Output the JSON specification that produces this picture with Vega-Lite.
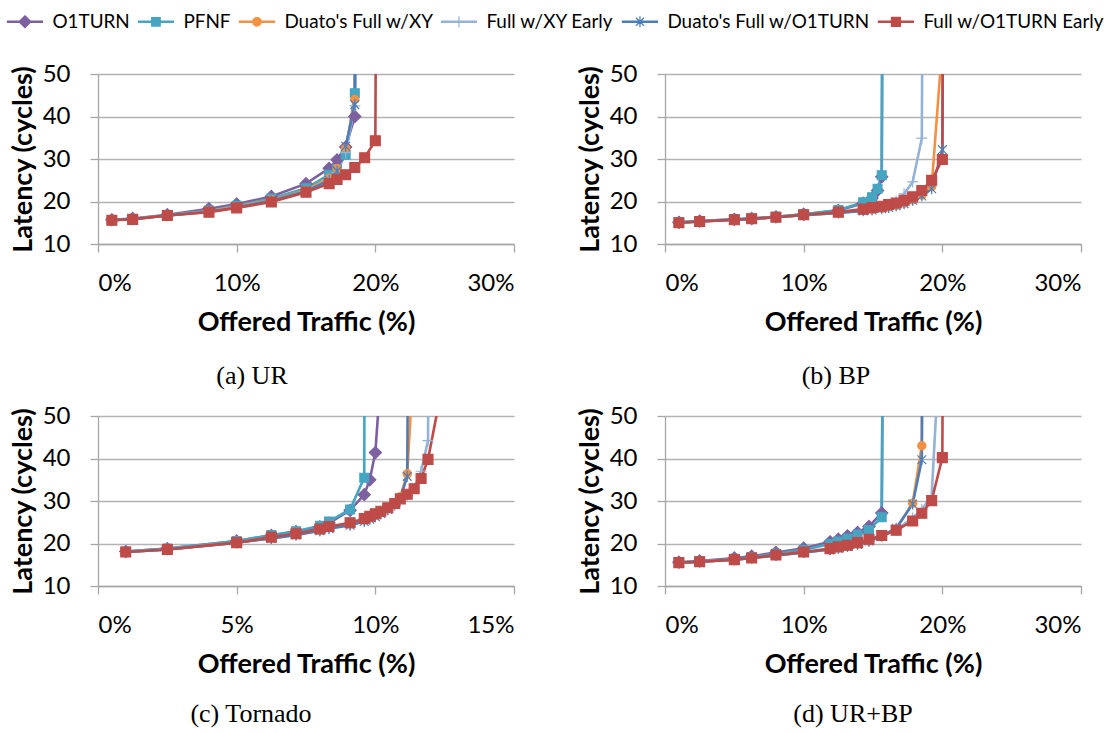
{
  "$schema": "https://vega.github.io/schema/vega-lite/v6.json",
  "background": "white",
  "padding": {"left": 9, "top": 12, "right": 4, "bottom": 4},
  "config": {
    "view": {"stroke": null},
    "font": "Lato",
    "axis": {
      "domainColor": "#a6a6a6", "domainWidth": 1.3,
      "tickColor": "#a6a6a6", "tickWidth": 1.3, "tickSize": 8,
      "gridColor": "#b3b3b3", "gridWidth": 1.3,
      "labelFont": "Lato", "labelFontSize": 24, "labelColor": "black",
      "titleFont": "Lato", "titleFontSize": 27, "titleFontWeight": "bold", "titleColor": "black"
    },
    "axisX": {"grid": false, "labelPadding": 19, "titlePadding": 14},
    "axisY": {"grid": true, "labelPadding": 20, "titlePadding": 5},
    "title": {"font": "Liberation Serif", "fontSize": 26, "fontWeight": "normal", "color": "black", "orient": "bottom", "anchor": "middle", "frame": "group"}
  },
  "datasets": {
    "latency": [
      {"panel": "a", "series": "O1TURN", "load": 1, "latency": 15.7},
      {"panel": "a", "series": "O1TURN", "load": 2.5, "latency": 16.0},
      {"panel": "a", "series": "O1TURN", "load": 5, "latency": 16.9},
      {"panel": "a", "series": "O1TURN", "load": 8, "latency": 18.3},
      {"panel": "a", "series": "O1TURN", "load": 10, "latency": 19.4},
      {"panel": "a", "series": "O1TURN", "load": 12.5, "latency": 21.2},
      {"panel": "a", "series": "O1TURN", "load": 15, "latency": 24.2},
      {"panel": "a", "series": "O1TURN", "load": 16.67, "latency": 27.8},
      {"panel": "a", "series": "O1TURN", "load": 17.24, "latency": 29.8},
      {"panel": "a", "series": "O1TURN", "load": 17.86, "latency": 32.8},
      {"panel": "a", "series": "O1TURN", "load": 18.52, "latency": 40.0},
      {"panel": "a", "series": "O1TURN", "load": 19.23, "latency": 400},
      {"panel": "a", "series": "PFNF", "load": 1, "latency": 15.6},
      {"panel": "a", "series": "PFNF", "load": 2.5, "latency": 15.9},
      {"panel": "a", "series": "PFNF", "load": 5, "latency": 16.8},
      {"panel": "a", "series": "PFNF", "load": 8, "latency": 17.9},
      {"panel": "a", "series": "PFNF", "load": 10, "latency": 19.0},
      {"panel": "a", "series": "PFNF", "load": 12.5, "latency": 20.7},
      {"panel": "a", "series": "PFNF", "load": 15, "latency": 23.1},
      {"panel": "a", "series": "PFNF", "load": 16.67, "latency": 26.3},
      {"panel": "a", "series": "PFNF", "load": 17.24, "latency": 27.6},
      {"panel": "a", "series": "PFNF", "load": 17.86, "latency": 31.0},
      {"panel": "a", "series": "PFNF", "load": 18.52, "latency": 45.5},
      {"panel": "a", "series": "PFNF", "load": 19.23, "latency": 500},
      {"panel": "a", "series": "Duato's Full w/XY", "load": 1, "latency": 15.6},
      {"panel": "a", "series": "Duato's Full w/XY", "load": 2.5, "latency": 15.9},
      {"panel": "a", "series": "Duato's Full w/XY", "load": 5, "latency": 16.7},
      {"panel": "a", "series": "Duato's Full w/XY", "load": 8, "latency": 17.7},
      {"panel": "a", "series": "Duato's Full w/XY", "load": 10, "latency": 18.8},
      {"panel": "a", "series": "Duato's Full w/XY", "load": 12.5, "latency": 20.4},
      {"panel": "a", "series": "Duato's Full w/XY", "load": 15, "latency": 22.6},
      {"panel": "a", "series": "Duato's Full w/XY", "load": 16.67, "latency": 25.5},
      {"panel": "a", "series": "Duato's Full w/XY", "load": 17.24, "latency": 27.8},
      {"panel": "a", "series": "Duato's Full w/XY", "load": 17.86, "latency": 32.5},
      {"panel": "a", "series": "Duato's Full w/XY", "load": 18.52, "latency": 44.0},
      {"panel": "a", "series": "Duato's Full w/XY", "load": 19.23, "latency": 500},
      {"panel": "a", "series": "Full w/XY Early", "load": 1, "latency": 15.6},
      {"panel": "a", "series": "Full w/XY Early", "load": 2.5, "latency": 15.9},
      {"panel": "a", "series": "Full w/XY Early", "load": 5, "latency": 16.7},
      {"panel": "a", "series": "Full w/XY Early", "load": 8, "latency": 17.6},
      {"panel": "a", "series": "Full w/XY Early", "load": 10, "latency": 18.6},
      {"panel": "a", "series": "Full w/XY Early", "load": 12.5, "latency": 20.1},
      {"panel": "a", "series": "Full w/XY Early", "load": 15, "latency": 22.3},
      {"panel": "a", "series": "Full w/XY Early", "load": 16.67, "latency": 24.8},
      {"panel": "a", "series": "Full w/XY Early", "load": 17.24, "latency": 26.8},
      {"panel": "a", "series": "Full w/XY Early", "load": 17.86, "latency": 31.5},
      {"panel": "a", "series": "Full w/XY Early", "load": 18.52, "latency": 42.5},
      {"panel": "a", "series": "Full w/XY Early", "load": 19.23, "latency": 500},
      {"panel": "a", "series": "Duato's Full w/O1TURN", "load": 1, "latency": 15.6},
      {"panel": "a", "series": "Duato's Full w/O1TURN", "load": 2.5, "latency": 15.9},
      {"panel": "a", "series": "Duato's Full w/O1TURN", "load": 5, "latency": 16.7},
      {"panel": "a", "series": "Duato's Full w/O1TURN", "load": 8, "latency": 17.6},
      {"panel": "a", "series": "Duato's Full w/O1TURN", "load": 10, "latency": 18.6},
      {"panel": "a", "series": "Duato's Full w/O1TURN", "load": 12.5, "latency": 20.2},
      {"panel": "a", "series": "Duato's Full w/O1TURN", "load": 15, "latency": 22.4},
      {"panel": "a", "series": "Duato's Full w/O1TURN", "load": 16.67, "latency": 25.0},
      {"panel": "a", "series": "Duato's Full w/O1TURN", "load": 17.24, "latency": 27.2},
      {"panel": "a", "series": "Duato's Full w/O1TURN", "load": 17.86, "latency": 33.0},
      {"panel": "a", "series": "Duato's Full w/O1TURN", "load": 18.52, "latency": 42.8},
      {"panel": "a", "series": "Duato's Full w/O1TURN", "load": 19.23, "latency": 500},
      {"panel": "a", "series": "Full w/O1TURN Early", "load": 1, "latency": 15.6},
      {"panel": "a", "series": "Full w/O1TURN Early", "load": 2.5, "latency": 15.8},
      {"panel": "a", "series": "Full w/O1TURN Early", "load": 5, "latency": 16.7},
      {"panel": "a", "series": "Full w/O1TURN Early", "load": 8, "latency": 17.5},
      {"panel": "a", "series": "Full w/O1TURN Early", "load": 10, "latency": 18.5},
      {"panel": "a", "series": "Full w/O1TURN Early", "load": 12.5, "latency": 19.9},
      {"panel": "a", "series": "Full w/O1TURN Early", "load": 15, "latency": 22.2},
      {"panel": "a", "series": "Full w/O1TURN Early", "load": 16.67, "latency": 24.2},
      {"panel": "a", "series": "Full w/O1TURN Early", "load": 17.24, "latency": 25.2},
      {"panel": "a", "series": "Full w/O1TURN Early", "load": 17.86, "latency": 26.3},
      {"panel": "a", "series": "Full w/O1TURN Early", "load": 18.52, "latency": 28.0},
      {"panel": "a", "series": "Full w/O1TURN Early", "load": 19.23, "latency": 30.3},
      {"panel": "a", "series": "Full w/O1TURN Early", "load": 20, "latency": 34.3},
      {"panel": "a", "series": "Full w/O1TURN Early", "load": 20.83, "latency": 600},

      {"panel": "b", "series": "O1TURN", "load": 1, "latency": 15.1},
      {"panel": "b", "series": "O1TURN", "load": 2.5, "latency": 15.4},
      {"panel": "b", "series": "O1TURN", "load": 5, "latency": 15.8},
      {"panel": "b", "series": "O1TURN", "load": 6.25, "latency": 16.0},
      {"panel": "b", "series": "O1TURN", "load": 8, "latency": 16.4},
      {"panel": "b", "series": "O1TURN", "load": 10, "latency": 17.0},
      {"panel": "b", "series": "O1TURN", "load": 12.5, "latency": 17.9},
      {"panel": "b", "series": "O1TURN", "load": 14.29, "latency": 19.6},
      {"panel": "b", "series": "O1TURN", "load": 14.93, "latency": 20.8},
      {"panel": "b", "series": "O1TURN", "load": 15.33, "latency": 22.6},
      {"panel": "b", "series": "O1TURN", "load": 15.63, "latency": 25.8},
      {"panel": "b", "series": "O1TURN", "load": 16.13, "latency": 500},
      {"panel": "b", "series": "PFNF", "load": 1, "latency": 15.1},
      {"panel": "b", "series": "PFNF", "load": 2.5, "latency": 15.4},
      {"panel": "b", "series": "PFNF", "load": 5, "latency": 15.8},
      {"panel": "b", "series": "PFNF", "load": 6.25, "latency": 16.0},
      {"panel": "b", "series": "PFNF", "load": 8, "latency": 16.4},
      {"panel": "b", "series": "PFNF", "load": 10, "latency": 17.0},
      {"panel": "b", "series": "PFNF", "load": 12.5, "latency": 18.0},
      {"panel": "b", "series": "PFNF", "load": 14.29, "latency": 19.8},
      {"panel": "b", "series": "PFNF", "load": 14.93, "latency": 21.0},
      {"panel": "b", "series": "PFNF", "load": 15.33, "latency": 23.0},
      {"panel": "b", "series": "PFNF", "load": 15.63, "latency": 26.2},
      {"panel": "b", "series": "PFNF", "load": 16.13, "latency": 500},
      {"panel": "b", "series": "Duato's Full w/XY", "load": 1, "latency": 15.0},
      {"panel": "b", "series": "Duato's Full w/XY", "load": 2.5, "latency": 15.3},
      {"panel": "b", "series": "Duato's Full w/XY", "load": 5, "latency": 15.7},
      {"panel": "b", "series": "Duato's Full w/XY", "load": 6.25, "latency": 15.9},
      {"panel": "b", "series": "Duato's Full w/XY", "load": 8, "latency": 16.3},
      {"panel": "b", "series": "Duato's Full w/XY", "load": 10, "latency": 16.8},
      {"panel": "b", "series": "Duato's Full w/XY", "load": 12.5, "latency": 17.3},
      {"panel": "b", "series": "Duato's Full w/XY", "load": 14.29, "latency": 17.9},
      {"panel": "b", "series": "Duato's Full w/XY", "load": 14.93, "latency": 18.1},
      {"panel": "b", "series": "Duato's Full w/XY", "load": 15.63, "latency": 18.4},
      {"panel": "b", "series": "Duato's Full w/XY", "load": 16.13, "latency": 18.7},
      {"panel": "b", "series": "Duato's Full w/XY", "load": 16.67, "latency": 19.1},
      {"panel": "b", "series": "Duato's Full w/XY", "load": 17.24, "latency": 19.6},
      {"panel": "b", "series": "Duato's Full w/XY", "load": 17.86, "latency": 20.4},
      {"panel": "b", "series": "Duato's Full w/XY", "load": 18.52, "latency": 21.5},
      {"panel": "b", "series": "Duato's Full w/XY", "load": 19.23, "latency": 23.5},
      {"panel": "b", "series": "Duato's Full w/XY", "load": 20, "latency": 57},
      {"panel": "b", "series": "Full w/XY Early", "load": 1, "latency": 15.0},
      {"panel": "b", "series": "Full w/XY Early", "load": 2.5, "latency": 15.3},
      {"panel": "b", "series": "Full w/XY Early", "load": 5, "latency": 15.7},
      {"panel": "b", "series": "Full w/XY Early", "load": 6.25, "latency": 15.9},
      {"panel": "b", "series": "Full w/XY Early", "load": 8, "latency": 16.3},
      {"panel": "b", "series": "Full w/XY Early", "load": 10, "latency": 16.8},
      {"panel": "b", "series": "Full w/XY Early", "load": 12.5, "latency": 17.4},
      {"panel": "b", "series": "Full w/XY Early", "load": 14.29, "latency": 18.0},
      {"panel": "b", "series": "Full w/XY Early", "load": 14.93, "latency": 18.3},
      {"panel": "b", "series": "Full w/XY Early", "load": 15.63, "latency": 18.7},
      {"panel": "b", "series": "Full w/XY Early", "load": 16.13, "latency": 19.3},
      {"panel": "b", "series": "Full w/XY Early", "load": 16.67, "latency": 20.1},
      {"panel": "b", "series": "Full w/XY Early", "load": 17.24, "latency": 21.8},
      {"panel": "b", "series": "Full w/XY Early", "load": 17.86, "latency": 24.6},
      {"panel": "b", "series": "Full w/XY Early", "load": 18.52, "latency": 34.9},
      {"panel": "b", "series": "Full w/XY Early", "load": 19.23, "latency": 500},
      {"panel": "b", "series": "Duato's Full w/O1TURN", "load": 1, "latency": 15.0},
      {"panel": "b", "series": "Duato's Full w/O1TURN", "load": 2.5, "latency": 15.3},
      {"panel": "b", "series": "Duato's Full w/O1TURN", "load": 5, "latency": 15.7},
      {"panel": "b", "series": "Duato's Full w/O1TURN", "load": 6.25, "latency": 15.9},
      {"panel": "b", "series": "Duato's Full w/O1TURN", "load": 8, "latency": 16.3},
      {"panel": "b", "series": "Duato's Full w/O1TURN", "load": 10, "latency": 16.8},
      {"panel": "b", "series": "Duato's Full w/O1TURN", "load": 12.5, "latency": 17.3},
      {"panel": "b", "series": "Duato's Full w/O1TURN", "load": 14.29, "latency": 17.8},
      {"panel": "b", "series": "Duato's Full w/O1TURN", "load": 14.93, "latency": 18.0},
      {"panel": "b", "series": "Duato's Full w/O1TURN", "load": 15.63, "latency": 18.3},
      {"panel": "b", "series": "Duato's Full w/O1TURN", "load": 16.13, "latency": 18.6},
      {"panel": "b", "series": "Duato's Full w/O1TURN", "load": 16.67, "latency": 19.0},
      {"panel": "b", "series": "Duato's Full w/O1TURN", "load": 17.24, "latency": 19.5},
      {"panel": "b", "series": "Duato's Full w/O1TURN", "load": 17.86, "latency": 20.3},
      {"panel": "b", "series": "Duato's Full w/O1TURN", "load": 18.52, "latency": 21.3},
      {"panel": "b", "series": "Duato's Full w/O1TURN", "load": 19.23, "latency": 23.0},
      {"panel": "b", "series": "Duato's Full w/O1TURN", "load": 20, "latency": 32.2},
      {"panel": "b", "series": "Duato's Full w/O1TURN", "load": 20.83, "latency": 600},
      {"panel": "b", "series": "Full w/O1TURN Early", "load": 1, "latency": 15.0},
      {"panel": "b", "series": "Full w/O1TURN Early", "load": 2.5, "latency": 15.3},
      {"panel": "b", "series": "Full w/O1TURN Early", "load": 5, "latency": 15.7},
      {"panel": "b", "series": "Full w/O1TURN Early", "load": 6.25, "latency": 15.95},
      {"panel": "b", "series": "Full w/O1TURN Early", "load": 8, "latency": 16.3},
      {"panel": "b", "series": "Full w/O1TURN Early", "load": 10, "latency": 16.9},
      {"panel": "b", "series": "Full w/O1TURN Early", "load": 12.5, "latency": 17.5},
      {"panel": "b", "series": "Full w/O1TURN Early", "load": 14.29, "latency": 18.2},
      {"panel": "b", "series": "Full w/O1TURN Early", "load": 14.93, "latency": 18.6},
      {"panel": "b", "series": "Full w/O1TURN Early", "load": 15.63, "latency": 18.9},
      {"panel": "b", "series": "Full w/O1TURN Early", "load": 16.13, "latency": 19.3},
      {"panel": "b", "series": "Full w/O1TURN Early", "load": 16.67, "latency": 19.65},
      {"panel": "b", "series": "Full w/O1TURN Early", "load": 17.24, "latency": 20.3},
      {"panel": "b", "series": "Full w/O1TURN Early", "load": 17.86, "latency": 21.1},
      {"panel": "b", "series": "Full w/O1TURN Early", "load": 18.52, "latency": 22.6},
      {"panel": "b", "series": "Full w/O1TURN Early", "load": 19.23, "latency": 25.0},
      {"panel": "b", "series": "Full w/O1TURN Early", "load": 20, "latency": 29.9},
      {"panel": "b", "series": "Full w/O1TURN Early", "load": 20.83, "latency": 600},

      {"panel": "c", "series": "O1TURN", "load": 1, "latency": 18.1},
      {"panel": "c", "series": "O1TURN", "load": 2.5, "latency": 18.8},
      {"panel": "c", "series": "O1TURN", "load": 5, "latency": 20.6},
      {"panel": "c", "series": "O1TURN", "load": 6.25, "latency": 21.9},
      {"panel": "c", "series": "O1TURN", "load": 7.14, "latency": 22.8},
      {"panel": "c", "series": "O1TURN", "load": 8.0, "latency": 23.9},
      {"panel": "c", "series": "O1TURN", "load": 8.33, "latency": 24.8},
      {"panel": "c", "series": "O1TURN", "load": 9.09, "latency": 27.8},
      {"panel": "c", "series": "O1TURN", "load": 9.6, "latency": 31.5},
      {"panel": "c", "series": "O1TURN", "load": 9.8, "latency": 35.0},
      {"panel": "c", "series": "O1TURN", "load": 10.0, "latency": 41.4},
      {"panel": "c", "series": "O1TURN", "load": 10.2, "latency": 60},
      {"panel": "c", "series": "PFNF", "load": 1, "latency": 18.1},
      {"panel": "c", "series": "PFNF", "load": 2.5, "latency": 18.8},
      {"panel": "c", "series": "PFNF", "load": 5, "latency": 20.6},
      {"panel": "c", "series": "PFNF", "load": 6.25, "latency": 22.0},
      {"panel": "c", "series": "PFNF", "load": 7.14, "latency": 22.9},
      {"panel": "c", "series": "PFNF", "load": 8.0, "latency": 24.2},
      {"panel": "c", "series": "PFNF", "load": 8.33, "latency": 25.2},
      {"panel": "c", "series": "PFNF", "load": 9.09, "latency": 28.0},
      {"panel": "c", "series": "PFNF", "load": 9.6, "latency": 35.5},
      {"panel": "c", "series": "PFNF", "load": 9.8, "latency": 500},
      {"panel": "c", "series": "Duato's Full w/XY", "load": 1, "latency": 18.0},
      {"panel": "c", "series": "Duato's Full w/XY", "load": 2.5, "latency": 18.6},
      {"panel": "c", "series": "Duato's Full w/XY", "load": 5, "latency": 20.3},
      {"panel": "c", "series": "Duato's Full w/XY", "load": 6.25, "latency": 21.3},
      {"panel": "c", "series": "Duato's Full w/XY", "load": 7.14, "latency": 22.1},
      {"panel": "c", "series": "Duato's Full w/XY", "load": 8.0, "latency": 23.2},
      {"panel": "c", "series": "Duato's Full w/XY", "load": 8.33, "latency": 23.8},
      {"panel": "c", "series": "Duato's Full w/XY", "load": 9.09, "latency": 24.6},
      {"panel": "c", "series": "Duato's Full w/XY", "load": 9.6, "latency": 25.5},
      {"panel": "c", "series": "Duato's Full w/XY", "load": 9.8, "latency": 26.0},
      {"panel": "c", "series": "Duato's Full w/XY", "load": 10.0, "latency": 26.6},
      {"panel": "c", "series": "Duato's Full w/XY", "load": 10.2, "latency": 27.3},
      {"panel": "c", "series": "Duato's Full w/XY", "load": 10.45, "latency": 28.3},
      {"panel": "c", "series": "Duato's Full w/XY", "load": 10.7, "latency": 29.5},
      {"panel": "c", "series": "Duato's Full w/XY", "load": 10.9, "latency": 31.0},
      {"panel": "c", "series": "Duato's Full w/XY", "load": 11.15, "latency": 36.4},
      {"panel": "c", "series": "Duato's Full w/XY", "load": 11.4, "latency": 65},
      {"panel": "c", "series": "Full w/XY Early", "load": 1, "latency": 18.0},
      {"panel": "c", "series": "Full w/XY Early", "load": 2.5, "latency": 18.6},
      {"panel": "c", "series": "Full w/XY Early", "load": 5, "latency": 20.2},
      {"panel": "c", "series": "Full w/XY Early", "load": 6.25, "latency": 21.2},
      {"panel": "c", "series": "Full w/XY Early", "load": 7.14, "latency": 22.0},
      {"panel": "c", "series": "Full w/XY Early", "load": 8.0, "latency": 23.0},
      {"panel": "c", "series": "Full w/XY Early", "load": 8.33, "latency": 23.6},
      {"panel": "c", "series": "Full w/XY Early", "load": 9.09, "latency": 24.4},
      {"panel": "c", "series": "Full w/XY Early", "load": 9.6, "latency": 25.3},
      {"panel": "c", "series": "Full w/XY Early", "load": 9.8, "latency": 25.8},
      {"panel": "c", "series": "Full w/XY Early", "load": 10.0, "latency": 26.4},
      {"panel": "c", "series": "Full w/XY Early", "load": 10.2, "latency": 27.0},
      {"panel": "c", "series": "Full w/XY Early", "load": 10.45, "latency": 27.9},
      {"panel": "c", "series": "Full w/XY Early", "load": 10.7, "latency": 28.9},
      {"panel": "c", "series": "Full w/XY Early", "load": 10.9, "latency": 30.0},
      {"panel": "c", "series": "Full w/XY Early", "load": 11.15, "latency": 31.2},
      {"panel": "c", "series": "Full w/XY Early", "load": 11.4, "latency": 33.0},
      {"panel": "c", "series": "Full w/XY Early", "load": 11.65, "latency": 37.0},
      {"panel": "c", "series": "Full w/XY Early", "load": 11.9, "latency": 44.2},
      {"panel": "c", "series": "Full w/XY Early", "load": 12.2, "latency": 500},
      {"panel": "c", "series": "Duato's Full w/O1TURN", "load": 1, "latency": 18.0},
      {"panel": "c", "series": "Duato's Full w/O1TURN", "load": 2.5, "latency": 18.6},
      {"panel": "c", "series": "Duato's Full w/O1TURN", "load": 5, "latency": 20.2},
      {"panel": "c", "series": "Duato's Full w/O1TURN", "load": 6.25, "latency": 21.2},
      {"panel": "c", "series": "Duato's Full w/O1TURN", "load": 7.14, "latency": 22.0},
      {"panel": "c", "series": "Duato's Full w/O1TURN", "load": 8.0, "latency": 23.0},
      {"panel": "c", "series": "Duato's Full w/O1TURN", "load": 8.33, "latency": 23.5},
      {"panel": "c", "series": "Duato's Full w/O1TURN", "load": 9.09, "latency": 24.3},
      {"panel": "c", "series": "Duato's Full w/O1TURN", "load": 9.6, "latency": 25.2},
      {"panel": "c", "series": "Duato's Full w/O1TURN", "load": 9.8, "latency": 25.7},
      {"panel": "c", "series": "Duato's Full w/O1TURN", "load": 10.0, "latency": 26.3},
      {"panel": "c", "series": "Duato's Full w/O1TURN", "load": 10.2, "latency": 27.0},
      {"panel": "c", "series": "Duato's Full w/O1TURN", "load": 10.45, "latency": 28.0},
      {"panel": "c", "series": "Duato's Full w/O1TURN", "load": 10.7, "latency": 29.3},
      {"panel": "c", "series": "Duato's Full w/O1TURN", "load": 10.9, "latency": 30.6},
      {"panel": "c", "series": "Duato's Full w/O1TURN", "load": 11.15, "latency": 35.8},
      {"panel": "c", "series": "Duato's Full w/O1TURN", "load": 11.4, "latency": 300},
      {"panel": "c", "series": "Full w/O1TURN Early", "load": 1, "latency": 18.0},
      {"panel": "c", "series": "Full w/O1TURN Early", "load": 2.5, "latency": 18.6},
      {"panel": "c", "series": "Full w/O1TURN Early", "load": 5, "latency": 20.2},
      {"panel": "c", "series": "Full w/O1TURN Early", "load": 6.25, "latency": 21.5},
      {"panel": "c", "series": "Full w/O1TURN Early", "load": 7.14, "latency": 22.3},
      {"panel": "c", "series": "Full w/O1TURN Early", "load": 8.0, "latency": 23.4},
      {"panel": "c", "series": "Full w/O1TURN Early", "load": 8.33, "latency": 24.0},
      {"panel": "c", "series": "Full w/O1TURN Early", "load": 9.09, "latency": 24.9},
      {"panel": "c", "series": "Full w/O1TURN Early", "load": 9.6, "latency": 25.9},
      {"panel": "c", "series": "Full w/O1TURN Early", "load": 9.8, "latency": 26.4},
      {"panel": "c", "series": "Full w/O1TURN Early", "load": 10.0, "latency": 27.0},
      {"panel": "c", "series": "Full w/O1TURN Early", "load": 10.2, "latency": 27.6},
      {"panel": "c", "series": "Full w/O1TURN Early", "load": 10.45, "latency": 28.4},
      {"panel": "c", "series": "Full w/O1TURN Early", "load": 10.7, "latency": 29.4},
      {"panel": "c", "series": "Full w/O1TURN Early", "load": 10.9, "latency": 30.5},
      {"panel": "c", "series": "Full w/O1TURN Early", "load": 11.15, "latency": 31.6},
      {"panel": "c", "series": "Full w/O1TURN Early", "load": 11.4, "latency": 32.9},
      {"panel": "c", "series": "Full w/O1TURN Early", "load": 11.65, "latency": 35.3},
      {"panel": "c", "series": "Full w/O1TURN Early", "load": 11.9, "latency": 39.8},
      {"panel": "c", "series": "Full w/O1TURN Early", "load": 12.5, "latency": 60},

      {"panel": "d", "series": "O1TURN", "load": 1, "latency": 15.6},
      {"panel": "d", "series": "O1TURN", "load": 2.5, "latency": 15.9},
      {"panel": "d", "series": "O1TURN", "load": 5, "latency": 16.6},
      {"panel": "d", "series": "O1TURN", "load": 6.25, "latency": 17.0},
      {"panel": "d", "series": "O1TURN", "load": 8, "latency": 17.9},
      {"panel": "d", "series": "O1TURN", "load": 10, "latency": 18.9},
      {"panel": "d", "series": "O1TURN", "load": 11.9, "latency": 20.4},
      {"panel": "d", "series": "O1TURN", "load": 12.5, "latency": 21.0},
      {"panel": "d", "series": "O1TURN", "load": 13.16, "latency": 21.8},
      {"panel": "d", "series": "O1TURN", "load": 13.89, "latency": 22.6},
      {"panel": "d", "series": "O1TURN", "load": 14.71, "latency": 24.0},
      {"panel": "d", "series": "O1TURN", "load": 15.63, "latency": 27.2},
      {"panel": "d", "series": "O1TURN", "load": 16.67, "latency": 600},
      {"panel": "d", "series": "PFNF", "load": 1, "latency": 15.5},
      {"panel": "d", "series": "PFNF", "load": 2.5, "latency": 15.8},
      {"panel": "d", "series": "PFNF", "load": 5, "latency": 16.4},
      {"panel": "d", "series": "PFNF", "load": 6.25, "latency": 16.8},
      {"panel": "d", "series": "PFNF", "load": 8, "latency": 17.6},
      {"panel": "d", "series": "PFNF", "load": 10, "latency": 18.5},
      {"panel": "d", "series": "PFNF", "load": 11.9, "latency": 19.9},
      {"panel": "d", "series": "PFNF", "load": 12.5, "latency": 20.5},
      {"panel": "d", "series": "PFNF", "load": 13.16, "latency": 21.2},
      {"panel": "d", "series": "PFNF", "load": 13.89, "latency": 22.1},
      {"panel": "d", "series": "PFNF", "load": 14.71, "latency": 23.2},
      {"panel": "d", "series": "PFNF", "load": 15.63, "latency": 26.2},
      {"panel": "d", "series": "PFNF", "load": 16.67, "latency": 600},
      {"panel": "d", "series": "Duato's Full w/XY", "load": 1, "latency": 15.5},
      {"panel": "d", "series": "Duato's Full w/XY", "load": 2.5, "latency": 15.7},
      {"panel": "d", "series": "Duato's Full w/XY", "load": 5, "latency": 16.2},
      {"panel": "d", "series": "Duato's Full w/XY", "load": 6.25, "latency": 16.6},
      {"panel": "d", "series": "Duato's Full w/XY", "load": 8, "latency": 17.2},
      {"panel": "d", "series": "Duato's Full w/XY", "load": 10, "latency": 17.9},
      {"panel": "d", "series": "Duato's Full w/XY", "load": 11.9, "latency": 18.7},
      {"panel": "d", "series": "Duato's Full w/XY", "load": 12.5, "latency": 19.0},
      {"panel": "d", "series": "Duato's Full w/XY", "load": 13.16, "latency": 19.4},
      {"panel": "d", "series": "Duato's Full w/XY", "load": 13.89, "latency": 19.9},
      {"panel": "d", "series": "Duato's Full w/XY", "load": 14.71, "latency": 20.6},
      {"panel": "d", "series": "Duato's Full w/XY", "load": 15.63, "latency": 21.7},
      {"panel": "d", "series": "Duato's Full w/XY", "load": 16.67, "latency": 23.4},
      {"panel": "d", "series": "Duato's Full w/XY", "load": 17.86, "latency": 29.5},
      {"panel": "d", "series": "Duato's Full w/XY", "load": 18.52, "latency": 43.0},
      {"panel": "d", "series": "Duato's Full w/XY", "load": 19.23, "latency": 600},
      {"panel": "d", "series": "Full w/XY Early", "load": 1, "latency": 15.5},
      {"panel": "d", "series": "Full w/XY Early", "load": 2.5, "latency": 15.7},
      {"panel": "d", "series": "Full w/XY Early", "load": 5, "latency": 16.2},
      {"panel": "d", "series": "Full w/XY Early", "load": 6.25, "latency": 16.6},
      {"panel": "d", "series": "Full w/XY Early", "load": 8, "latency": 17.2},
      {"panel": "d", "series": "Full w/XY Early", "load": 10, "latency": 17.9},
      {"panel": "d", "series": "Full w/XY Early", "load": 11.9, "latency": 18.6},
      {"panel": "d", "series": "Full w/XY Early", "load": 12.5, "latency": 18.9},
      {"panel": "d", "series": "Full w/XY Early", "load": 13.16, "latency": 19.3},
      {"panel": "d", "series": "Full w/XY Early", "load": 13.89, "latency": 19.8},
      {"panel": "d", "series": "Full w/XY Early", "load": 14.71, "latency": 20.5},
      {"panel": "d", "series": "Full w/XY Early", "load": 15.63, "latency": 21.6},
      {"panel": "d", "series": "Full w/XY Early", "load": 16.67, "latency": 23.2},
      {"panel": "d", "series": "Full w/XY Early", "load": 17.86, "latency": 26.0},
      {"panel": "d", "series": "Full w/XY Early", "load": 18.52, "latency": 28.0},
      {"panel": "d", "series": "Full w/XY Early", "load": 19.23, "latency": 31.2},
      {"panel": "d", "series": "Full w/XY Early", "load": 20, "latency": 78},
      {"panel": "d", "series": "Duato's Full w/O1TURN", "load": 1, "latency": 15.5},
      {"panel": "d", "series": "Duato's Full w/O1TURN", "load": 2.5, "latency": 15.7},
      {"panel": "d", "series": "Duato's Full w/O1TURN", "load": 5, "latency": 16.2},
      {"panel": "d", "series": "Duato's Full w/O1TURN", "load": 6.25, "latency": 16.6},
      {"panel": "d", "series": "Duato's Full w/O1TURN", "load": 8, "latency": 17.2},
      {"panel": "d", "series": "Duato's Full w/O1TURN", "load": 10, "latency": 17.9},
      {"panel": "d", "series": "Duato's Full w/O1TURN", "load": 11.9, "latency": 18.6},
      {"panel": "d", "series": "Duato's Full w/O1TURN", "load": 12.5, "latency": 18.9},
      {"panel": "d", "series": "Duato's Full w/O1TURN", "load": 13.16, "latency": 19.3},
      {"panel": "d", "series": "Duato's Full w/O1TURN", "load": 13.89, "latency": 19.8},
      {"panel": "d", "series": "Duato's Full w/O1TURN", "load": 14.71, "latency": 20.6},
      {"panel": "d", "series": "Duato's Full w/O1TURN", "load": 15.63, "latency": 21.8},
      {"panel": "d", "series": "Duato's Full w/O1TURN", "load": 16.67, "latency": 23.6},
      {"panel": "d", "series": "Duato's Full w/O1TURN", "load": 17.86, "latency": 29.3},
      {"panel": "d", "series": "Duato's Full w/O1TURN", "load": 18.52, "latency": 39.7},
      {"panel": "d", "series": "Duato's Full w/O1TURN", "load": 19.23, "latency": 600},
      {"panel": "d", "series": "Full w/O1TURN Early", "load": 1, "latency": 15.5},
      {"panel": "d", "series": "Full w/O1TURN Early", "load": 2.5, "latency": 15.7},
      {"panel": "d", "series": "Full w/O1TURN Early", "load": 5, "latency": 16.2},
      {"panel": "d", "series": "Full w/O1TURN Early", "load": 6.25, "latency": 16.6},
      {"panel": "d", "series": "Full w/O1TURN Early", "load": 8, "latency": 17.3},
      {"panel": "d", "series": "Full w/O1TURN Early", "load": 10, "latency": 18.0},
      {"panel": "d", "series": "Full w/O1TURN Early", "load": 11.9, "latency": 18.8},
      {"panel": "d", "series": "Full w/O1TURN Early", "load": 12.5, "latency": 19.2},
      {"panel": "d", "series": "Full w/O1TURN Early", "load": 13.16, "latency": 19.6},
      {"panel": "d", "series": "Full w/O1TURN Early", "load": 13.89, "latency": 20.2},
      {"panel": "d", "series": "Full w/O1TURN Early", "load": 14.71, "latency": 21.0},
      {"panel": "d", "series": "Full w/O1TURN Early", "load": 15.63, "latency": 21.9},
      {"panel": "d", "series": "Full w/O1TURN Early", "load": 16.67, "latency": 23.1},
      {"panel": "d", "series": "Full w/O1TURN Early", "load": 17.86, "latency": 25.3},
      {"panel": "d", "series": "Full w/O1TURN Early", "load": 18.52, "latency": 27.1},
      {"panel": "d", "series": "Full w/O1TURN Early", "load": 19.23, "latency": 30.1},
      {"panel": "d", "series": "Full w/O1TURN Early", "load": 20, "latency": 40.2},
      {"panel": "d", "series": "Full w/O1TURN Early", "load": 20.83, "latency": 600}
    ]
  },
  "columns": 2,
  "spacing": {"row": 172, "column": 151},
  "bounds": "flush",
  "resolve": {
    "scale": {"color": "independent", "shape": "independent", "fill": "independent", "stroke": "independent"},
    "legend": {"color": "independent", "shape": "independent", "fill": "independent", "stroke": "independent"}
  },
  "concat": [
    {
      "width": 416, "height": 170,
      "data": {"name": "latency"},
      "transform": [{"filter": "datum.panel === 'a'"}],
      "title": {"text": "(a) UR", "dx": -54, "offset": 28},
      "encoding": {
        "x": {"field": "load", "type": "quantitative", "scale": {"domain": [0, 30], "nice": false, "zero": false},
              "axis": {"values": [0, 10, 20, 30], "labelExpr": "datum.value + '%'", "title": "Offered Traffic (%)"}},
        "y": {"field": "latency", "type": "quantitative", "scale": {"domain": [10, 50], "nice": false, "zero": false},
              "axis": {"values": [10, 20, 30, 40, 50], "title": "Latency (cycles)"}}
      },
      "layer": [
        {
          "mark": {"type": "line", "strokeWidth": 2.6, "clip": true},
          "encoding": {
            "color": {"field": "series", "type": "nominal", "legend": null,
              "scale": {"domain": ["O1TURN", "PFNF", "Duato's Full w/XY", "Full w/XY Early", "Duato's Full w/O1TURN", "Full w/O1TURN Early"],
                        "range": ["#7D60A0", "#46A6C2", "#F39143", "#95B3D7", "#4A7EBB", "#BE4B48"]}}
          }
        },
        {
          "mark": {"type": "point", "filled": true, "opacity": 1, "size": 121, "strokeWidth": 1.2, "clip": true},
          "encoding": {
            "shape": {"field": "series", "type": "nominal", "legend": null,
              "scale": {"domain": ["O1TURN", "PFNF", "Duato's Full w/XY", "Full w/XY Early", "Duato's Full w/O1TURN", "Full w/O1TURN Early"],
                        "range": ["M0,-1.1L1.1,0L0,1.1L-1.1,0Z", "M-0.8,-0.8L0.8,-0.8L0.8,0.8L-0.8,0.8Z", "M0.75,0A0.75,0.75,0,1,1,-0.75,0A0.75,0.75,0,1,1,0.75,0Z", "M-1,0L1,0M0,-1L0,1", "M-0.8,-0.8L0.8,0.8M-0.8,0.8L0.8,-0.8M0,-1L0,1", "M-0.9,-0.9L0.9,-0.9L0.9,0.9L-0.9,0.9Z"]}},
            "fill": {"field": "series", "type": "nominal", "legend": null,
              "scale": {"domain": ["O1TURN", "PFNF", "Duato's Full w/XY", "Full w/XY Early", "Duato's Full w/O1TURN", "Full w/O1TURN Early"],
                        "range": ["#7D60A0", "#46A6C2", "#F39143", "#95B3D7", "#4A7EBB", "#BE4B48"]}},
            "stroke": {"field": "series", "type": "nominal", "legend": null,
              "scale": {"domain": ["O1TURN", "PFNF", "Duato's Full w/XY", "Full w/XY Early", "Duato's Full w/O1TURN", "Full w/O1TURN Early"],
                        "range": ["#7D60A0", "#46A6C2", "#F39143", "#95B3D7", "#4A7EBB", "#BE4B48"]}}
          }
        },
        {
          "transform": [{"filter": "false"}],
          "mark": {"type": "point", "filled": true, "opacity": 1, "strokeWidth": 1.2},
          "encoding": {
            "shape": {"field": "series", "type": "nominal",
              "scale": {"domain": ["O1TURN", "PFNF", "Duato's Full w/XY", "Full w/XY Early", "Duato's Full w/O1TURN", "Full w/O1TURN Early"],
                        "range": [
                          "M-3.5,-0.13L3.5,-0.13L3.5,0.13L-3.5,0.13Z M0,-1.2L1.2,0L0,1.2L-1.2,0Z",
                          "M-3.5,-0.13L3.5,-0.13L3.5,0.13L-3.5,0.13Z M-0.85,-0.85L0.85,-0.85L0.85,0.85L-0.85,0.85Z",
                          "M-3.5,-0.13L3.5,-0.13L3.5,0.13L-3.5,0.13Z M0.85,0A0.85,0.85,0,1,1,-0.85,0A0.85,0.85,0,1,1,0.85,0Z",
                          "M-3.5,-0.13L3.5,-0.13L3.5,0.13L-3.5,0.13Z M0,-1.1L0,1.1",
                          "M-3.5,-0.13L3.5,-0.13L3.5,0.13L-3.5,0.13Z M-0.8,-0.8L0.8,0.8 M-0.8,0.8L0.8,-0.8 M0,-1.1L0,1.1",
                          "M-3.5,-0.13L3.5,-0.13L3.5,0.13L-3.5,0.13Z M-0.9,-0.9L0.9,-0.9L0.9,0.9L-0.9,0.9Z"
                        ]},
              "legend": {"title": null, "orient": "none", "legendX": -82.5, "legendY": -62, "direction": "horizontal",
                         "symbolSize": 100, "symbolStrokeWidth": 1.2, "labelFont": "Lato", "labelFontSize": 18.9,
                         "labelColor": "black", "labelOffset": 18, "labelLimit": 400, "columnPadding": 5}},
            "fill": {"field": "series", "type": "nominal", "legend": {"title": null},
              "scale": {"domain": ["O1TURN", "PFNF", "Duato's Full w/XY", "Full w/XY Early", "Duato's Full w/O1TURN", "Full w/O1TURN Early"],
                        "range": ["#7D60A0", "#46A6C2", "#F39143", "#95B3D7", "#4A7EBB", "#BE4B48"]}},
            "stroke": {"field": "series", "type": "nominal", "legend": {"title": null},
              "scale": {"domain": ["O1TURN", "PFNF", "Duato's Full w/XY", "Full w/XY Early", "Duato's Full w/O1TURN", "Full w/O1TURN Early"],
                        "range": ["#7D60A0", "#46A6C2", "#F39143", "#95B3D7", "#4A7EBB", "#BE4B48"]}}
          }
        }
      ],
      "resolve": {
        "scale": {"color": "independent", "shape": "independent", "fill": "independent", "stroke": "independent"},
        "legend": {"color": "independent", "shape": "independent", "fill": "independent", "stroke": "independent"}
      }
    },
    {
      "width": 416, "height": 170,
      "data": {"name": "latency"},
      "transform": [{"filter": "datum.panel === 'b'"}],
      "title": {"text": "(b) BP", "dx": -37, "offset": 28},
      "encoding": {
        "x": {"field": "load", "type": "quantitative", "scale": {"domain": [0, 30], "nice": false, "zero": false},
              "axis": {"values": [0, 10, 20, 30], "labelExpr": "datum.value + '%'", "title": "Offered Traffic (%)"}},
        "y": {"field": "latency", "type": "quantitative", "scale": {"domain": [10, 50], "nice": false, "zero": false},
              "axis": {"values": [10, 20, 30, 40, 50], "title": "Latency (cycles)"}}
      },
      "layer": [
        {
          "mark": {"type": "line", "strokeWidth": 2.6, "clip": true},
          "encoding": {
            "color": {"field": "series", "type": "nominal", "legend": null,
              "scale": {"domain": ["O1TURN", "PFNF", "Duato's Full w/XY", "Full w/XY Early", "Duato's Full w/O1TURN", "Full w/O1TURN Early"],
                        "range": ["#7D60A0", "#46A6C2", "#F39143", "#95B3D7", "#4A7EBB", "#BE4B48"]}}
          }
        },
        {
          "mark": {"type": "point", "filled": true, "opacity": 1, "size": 121, "strokeWidth": 1.2, "clip": true},
          "encoding": {
            "shape": {"field": "series", "type": "nominal", "legend": null,
              "scale": {"domain": ["O1TURN", "PFNF", "Duato's Full w/XY", "Full w/XY Early", "Duato's Full w/O1TURN", "Full w/O1TURN Early"],
                        "range": ["M0,-1.1L1.1,0L0,1.1L-1.1,0Z", "M-0.8,-0.8L0.8,-0.8L0.8,0.8L-0.8,0.8Z", "M0.75,0A0.75,0.75,0,1,1,-0.75,0A0.75,0.75,0,1,1,0.75,0Z", "M-1,0L1,0M0,-1L0,1", "M-0.8,-0.8L0.8,0.8M-0.8,0.8L0.8,-0.8M0,-1L0,1", "M-0.9,-0.9L0.9,-0.9L0.9,0.9L-0.9,0.9Z"]}},
            "fill": {"field": "series", "type": "nominal", "legend": null,
              "scale": {"domain": ["O1TURN", "PFNF", "Duato's Full w/XY", "Full w/XY Early", "Duato's Full w/O1TURN", "Full w/O1TURN Early"],
                        "range": ["#7D60A0", "#46A6C2", "#F39143", "#95B3D7", "#4A7EBB", "#BE4B48"]}},
            "stroke": {"field": "series", "type": "nominal", "legend": null,
              "scale": {"domain": ["O1TURN", "PFNF", "Duato's Full w/XY", "Full w/XY Early", "Duato's Full w/O1TURN", "Full w/O1TURN Early"],
                        "range": ["#7D60A0", "#46A6C2", "#F39143", "#95B3D7", "#4A7EBB", "#BE4B48"]}}
          }
        }
      ]
    },
    {
      "width": 416, "height": 170,
      "data": {"name": "latency"},
      "transform": [{"filter": "datum.panel === 'c'"}],
      "title": {"text": "(c) Tornado", "dx": -55, "offset": 24},
      "encoding": {
        "x": {"field": "load", "type": "quantitative", "scale": {"domain": [0, 15], "nice": false, "zero": false},
              "axis": {"values": [0, 5, 10, 15], "labelExpr": "datum.value + '%'", "title": "Offered Traffic (%)"}},
        "y": {"field": "latency", "type": "quantitative", "scale": {"domain": [10, 50], "nice": false, "zero": false},
              "axis": {"values": [10, 20, 30, 40, 50], "title": "Latency (cycles)"}}
      },
      "layer": [
        {
          "mark": {"type": "line", "strokeWidth": 2.6, "clip": true},
          "encoding": {
            "color": {"field": "series", "type": "nominal", "legend": null,
              "scale": {"domain": ["O1TURN", "PFNF", "Duato's Full w/XY", "Full w/XY Early", "Duato's Full w/O1TURN", "Full w/O1TURN Early"],
                        "range": ["#7D60A0", "#46A6C2", "#F39143", "#95B3D7", "#4A7EBB", "#BE4B48"]}}
          }
        },
        {
          "mark": {"type": "point", "filled": true, "opacity": 1, "size": 121, "strokeWidth": 1.2, "clip": true},
          "encoding": {
            "shape": {"field": "series", "type": "nominal", "legend": null,
              "scale": {"domain": ["O1TURN", "PFNF", "Duato's Full w/XY", "Full w/XY Early", "Duato's Full w/O1TURN", "Full w/O1TURN Early"],
                        "range": ["M0,-1.1L1.1,0L0,1.1L-1.1,0Z", "M-0.8,-0.8L0.8,-0.8L0.8,0.8L-0.8,0.8Z", "M0.75,0A0.75,0.75,0,1,1,-0.75,0A0.75,0.75,0,1,1,0.75,0Z", "M-1,0L1,0M0,-1L0,1", "M-0.8,-0.8L0.8,0.8M-0.8,0.8L0.8,-0.8M0,-1L0,1", "M-0.9,-0.9L0.9,-0.9L0.9,0.9L-0.9,0.9Z"]}},
            "fill": {"field": "series", "type": "nominal", "legend": null,
              "scale": {"domain": ["O1TURN", "PFNF", "Duato's Full w/XY", "Full w/XY Early", "Duato's Full w/O1TURN", "Full w/O1TURN Early"],
                        "range": ["#7D60A0", "#46A6C2", "#F39143", "#95B3D7", "#4A7EBB", "#BE4B48"]}},
            "stroke": {"field": "series", "type": "nominal", "legend": null,
              "scale": {"domain": ["O1TURN", "PFNF", "Duato's Full w/XY", "Full w/XY Early", "Duato's Full w/O1TURN", "Full w/O1TURN Early"],
                        "range": ["#7D60A0", "#46A6C2", "#F39143", "#95B3D7", "#4A7EBB", "#BE4B48"]}}
          }
        }
      ]
    },
    {
      "width": 416, "height": 170,
      "data": {"name": "latency"},
      "transform": [{"filter": "datum.panel === 'd'"}],
      "title": {"text": "(d) UR+BP", "dx": -20, "offset": 24},
      "encoding": {
        "x": {"field": "load", "type": "quantitative", "scale": {"domain": [0, 30], "nice": false, "zero": false},
              "axis": {"values": [0, 10, 20, 30], "labelExpr": "datum.value + '%'", "title": "Offered Traffic (%)"}},
        "y": {"field": "latency", "type": "quantitative", "scale": {"domain": [10, 50], "nice": false, "zero": false},
              "axis": {"values": [10, 20, 30, 40, 50], "title": "Latency (cycles)"}}
      },
      "layer": [
        {
          "mark": {"type": "line", "strokeWidth": 2.6, "clip": true},
          "encoding": {
            "color": {"field": "series", "type": "nominal", "legend": null,
              "scale": {"domain": ["O1TURN", "PFNF", "Duato's Full w/XY", "Full w/XY Early", "Duato's Full w/O1TURN", "Full w/O1TURN Early"],
                        "range": ["#7D60A0", "#46A6C2", "#F39143", "#95B3D7", "#4A7EBB", "#BE4B48"]}}
          }
        },
        {
          "mark": {"type": "point", "filled": true, "opacity": 1, "size": 121, "strokeWidth": 1.2, "clip": true},
          "encoding": {
            "shape": {"field": "series", "type": "nominal", "legend": null,
              "scale": {"domain": ["O1TURN", "PFNF", "Duato's Full w/XY", "Full w/XY Early", "Duato's Full w/O1TURN", "Full w/O1TURN Early"],
                        "range": ["M0,-1.1L1.1,0L0,1.1L-1.1,0Z", "M-0.8,-0.8L0.8,-0.8L0.8,0.8L-0.8,0.8Z", "M0.75,0A0.75,0.75,0,1,1,-0.75,0A0.75,0.75,0,1,1,0.75,0Z", "M-1,0L1,0M0,-1L0,1", "M-0.8,-0.8L0.8,0.8M-0.8,0.8L0.8,-0.8M0,-1L0,1", "M-0.9,-0.9L0.9,-0.9L0.9,0.9L-0.9,0.9Z"]}},
            "fill": {"field": "series", "type": "nominal", "legend": null,
              "scale": {"domain": ["O1TURN", "PFNF", "Duato's Full w/XY", "Full w/XY Early", "Duato's Full w/O1TURN", "Full w/O1TURN Early"],
                        "range": ["#7D60A0", "#46A6C2", "#F39143", "#95B3D7", "#4A7EBB", "#BE4B48"]}},
            "stroke": {"field": "series", "type": "nominal", "legend": null,
              "scale": {"domain": ["O1TURN", "PFNF", "Duato's Full w/XY", "Full w/XY Early", "Duato's Full w/O1TURN", "Full w/O1TURN Early"],
                        "range": ["#7D60A0", "#46A6C2", "#F39143", "#95B3D7", "#4A7EBB", "#BE4B48"]}}
          }
        }
      ]
    }
  ]
}
